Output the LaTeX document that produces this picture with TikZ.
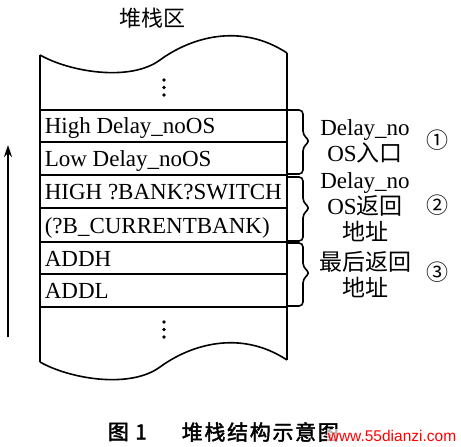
\documentclass[tikz,border=0pt]{standalone}
\usepackage{fontspec}
\setmainfont{Liberation Serif}
\newfontfamily\cjk{Noto Sans CJK SC}
\newfontfamily\capcjk[FakeBold=2,LetterSpace=8]{Noto Sans CJK SC}
\newfontfamily\wmfont{Liberation Sans}
\usetikzlibrary{arrows.meta}
\def\stackbrace(#1:#2:#3){\draw[rounded corners=4pt] (287,#1) -- (303,#1) -- (303,#2-6) -- (310,#2) -- (303,#2+6) -- (303,#3) -- (287,#3);}
\def\wave(#1){\draw (40,55+#1) .. controls (70,72+#1) and (130,82+#1) .. (160,60+#1) .. controls (190,38+#1) and (240,22+#1) .. (287,53+#1);}

\begin{document}
\begin{tikzpicture}[x=1pt,y=-1pt,line width=1.6pt,
    rowtext/.style={anchor=base west,inner sep=0pt,font=\fontsize{23}{26}\selectfont},
    sidetext/.style={align=center,inner sep=0pt,font=\fontsize{23}{26}\selectfont},
    numtext/.style={inner sep=0pt,font=\cjk\fontsize{22}{22}\selectfont}]
				\useasboundingbox (0,0) rectangle (461,447);
				
				\node[font=\cjk\fontsize{22}{22}\selectfont] (title) at (152,18) {堆栈区};
				
				% stack outline
				\wave(0)
				\wave(307)
				\draw (40,55) -- (40,362);
				\draw (287,53) -- (287,360);
				\foreach \y in {110,142,175,208,242,274,307}
					\draw (40,\y) -- (287,\y);
				
				\foreach \y in {80,87.5,95,322,329.5,337}
					\fill (164,\y) circle (1.8);
				
				\node[rowtext] (hi) at (44,133) {High Delay\_noOS};
				\node[rowtext] (lo) at (44,166) {Low Delay\_noOS};
				\node[rowtext] (bank) at (44,199) {HIGH ?BANK?SWITCH};
				\node[rowtext] (cur) at (44,233) {(?B\_CURRENTBANK)};
				\node[rowtext] (addh) at (44,266) {ADDH};
				\node[rowtext] (addl) at (44,298) {ADDL};
				
				% braces
				\stackbrace(110:141:174)
				\stackbrace(177:208:241)
				\stackbrace(243:273:306)
				
				\node[sidetext] (entry) at (365,141) {Delay\_no\\OS{\cjk 入口}};
				\node[sidetext] (ret) at (365,207) {Delay\_no\\OS{\cjk 返回}\\{\cjk 地址}};
				\node[sidetext] (last) at (365,275) {{\cjk 最后返回}\\{\cjk 地址}};
				\node[numtext] (n1) at (437,140) {①};
				\node[numtext] (n2) at (437,205) {②};
				\node[numtext] (n3) at (437,272) {③};
				
				% growth direction
				\coordinate (low) at (8,337);
				\coordinate (high) at (8,145);
				\draw[-{Stealth[length=12pt,width=8pt]}] (low) -- (high);
				
				\node[anchor=west,inner sep=0pt,font=\capcjk\fontsize{21}{21}\selectfont] (fig) at (107,432) {图 1};
				\node[anchor=west,inner sep=0pt,font=\capcjk\fontsize{21}{21}\selectfont] (cap) at (181,432) {堆栈结构示意图};
				\node[anchor=east,inner sep=1pt,fill=white,fill opacity=0.7,text opacity=1,text=red,font=\wmfont\fontsize{15.5}{16}\selectfont] (wm) at (458,436) {www.55dianzi.com};
\end{tikzpicture}
\end{document}
